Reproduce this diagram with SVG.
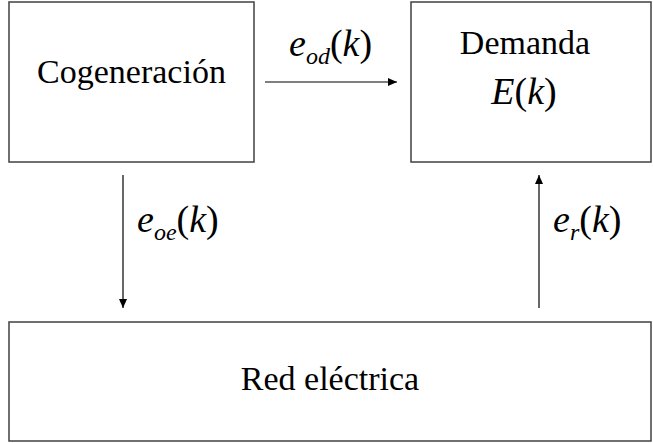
<svg xmlns="http://www.w3.org/2000/svg" width="653" height="443" viewBox="0 0 653 443">
<defs>
<style>
.box{fill:#fff;stroke:#404040;stroke-width:1.5}
.lbl{font-family:'Liberation Serif','DejaVu Serif',serif;font-size:34px;fill:#000;text-anchor:middle}
.math{font-family:'Liberation Serif','DejaVu Serif',serif;font-size:38px;fill:#000}
.it{font-style:italic}
.sub{font-style:italic;font-size:24px}
.con{stroke:#000;stroke-width:1.2;fill:none}
</style>
<marker id="ah" viewBox="0 0 10 10" refX="10" refY="5" markerWidth="9" markerHeight="8" markerUnits="userSpaceOnUse" orient="auto" preserveAspectRatio="none">
<path d="M0,0 L10,5 L0,10 z" fill="#000"/>
</marker>
</defs>
<rect width="653" height="443" fill="#fff"/>
<g id="cogeneracion">
<rect class="box" x="9" y="2" width="245" height="160"/>
<text class="lbl" x="131.5" y="83">Cogeneración</text>
</g>
<g id="demanda">
<rect class="box" x="411" y="2" width="240" height="160"/>
<text class="lbl" x="525" y="54">Demanda</text>
<text class="math" x="524" y="104" text-anchor="middle"><tspan class="it">E</tspan>(<tspan class="it">k</tspan>)</text>
</g>
<g id="red">
<rect class="box" x="9" y="322" width="642" height="119"/>
<text class="lbl" x="330" y="390">Red eléctrica</text>
</g>
<g id="connectors">
<line class="con" x1="265" y1="82" x2="397" y2="82" marker-end="url(#ah)"/>
<line class="con" x1="123" y1="175" x2="123" y2="308" marker-end="url(#ah)"/>
<line class="con" x1="539" y1="308" x2="539" y2="175" marker-end="url(#ah)"/>
<text class="math" x="289" y="56"><tspan class="it">e</tspan><tspan class="sub" dy="8">od</tspan><tspan dy="-8">(</tspan><tspan class="it">k</tspan>)</text>
<text class="math" x="137" y="232"><tspan class="it">e</tspan><tspan class="sub" dy="8">oe</tspan><tspan dy="-8">(</tspan><tspan class="it">k</tspan>)</text>
<text class="math" x="553" y="232"><tspan class="it">e</tspan><tspan class="sub" dy="8">r</tspan><tspan dy="-8">(</tspan><tspan class="it">k</tspan>)</text>
</g>
</svg>
